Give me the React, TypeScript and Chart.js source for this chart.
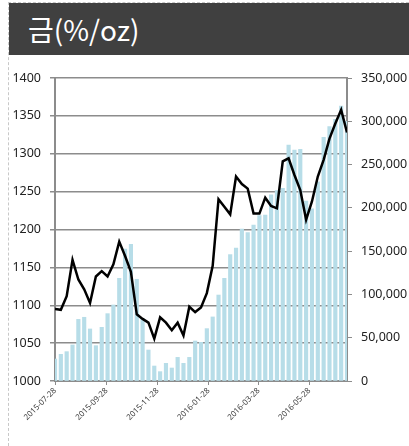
import React, { useEffect, useRef } from 'react';
import { Chart, registerables } from 'chart.js';

Chart.register(...registerables);

const TITLE = '금(%/oz)';

const dates = [
  '2015-07-28', '2015-08-04', '2015-08-11', '2015-08-18', '2015-08-25',
  '2015-09-01', '2015-09-08', '2015-09-15', '2015-09-22', '2015-09-29',
  '2015-10-06', '2015-10-13', '2015-10-20', '2015-10-27', '2015-11-03',
  '2015-11-10', '2015-11-17', '2015-11-24', '2015-12-01', '2015-12-08',
  '2015-12-15', '2015-12-22', '2015-12-29', '2016-01-05', '2016-01-12',
  '2016-01-19', '2016-01-26', '2016-02-02', '2016-02-09', '2016-02-16',
  '2016-02-23', '2016-03-01', '2016-03-08', '2016-03-15', '2016-03-22',
  '2016-03-29', '2016-04-05', '2016-04-12', '2016-04-19', '2016-04-26',
  '2016-05-03', '2016-05-10', '2016-05-17', '2016-05-24', '2016-05-31',
  '2016-06-07', '2016-06-14', '2016-06-21', '2016-06-28', '2016-07-05',
  '2016-07-12',
];

// Gold price ($/oz), left axis
const goldPrice = [
  1095, 1094, 1112, 1160, 1134, 1121, 1103, 1138, 1145, 1138,
  1154, 1184, 1165, 1144, 1088, 1082, 1077, 1056, 1084, 1077,
  1067, 1077, 1060, 1098, 1091, 1097, 1116, 1152, 1240, 1230,
  1220, 1270, 1260, 1254, 1221, 1221, 1242, 1231, 1228, 1290,
  1294, 1272, 1252, 1213, 1237, 1270, 1292, 1320, 1340, 1358,
  1328,
];

// Volume / positions, right axis
const volume = [
  25400, 30800, 33900, 41600, 71200, 73600, 60100, 40800, 62000, 77800,
  87800, 118600, 152500, 158000, 117500, 72000, 35800, 17300, 10800, 20400,
  15000, 27300, 20400, 27300, 46200, 44700, 60500, 74000, 99300, 118600,
  146000, 153500, 175600, 171300, 180200, 191000, 191700, 215000, 220000, 222600,
  272600, 266800, 267600, 207900, 199000, 230200, 281500, 293800, 302300, 317500,
  300000,
];

const xTickLabels = ['2015-07-28', '2015-09-28', '2015-11-28', '2016-01-28', '2016-03-28', '2016-05-28'];

const leftMin = 1000;
const leftMax = 1400;
const leftStep = 50;
const rightMin = 0;
const rightMax = 350000;
const rightStep = 50000;

const DAY = 86400000;
const t0 = Date.parse(dates[0]);
const dayOf = (s: string) => Math.round((Date.parse(s) - t0) / DAY);

const FONT = '"Noto Sans", "Noto Sans CJK KR", sans-serif';

export default function App() {
  const ref = useRef<HTMLCanvasElement | null>(null);

  useEffect(() => {
    if (!ref.current) return;
    const xs = dates.map(dayOf);
    const tickMap: Record<number, string> = {};
    xTickLabels.forEach((l) => (tickMap[dayOf(l)] = l));

    const chart = new Chart(ref.current, {
      type: 'bar',
      data: {
        datasets: [
          {
            type: 'line',
            label: 'gold',
            data: xs.map((x, i) => ({ x, y: goldPrice[i] })),
            borderColor: '#000000',
            borderWidth: 2.5,
            pointRadius: 0,
            tension: 0,
            fill: false,
            yAxisID: 'y',
            order: 0,
          } as any,
          {
            type: 'bar',
            label: 'volume',
            data: xs.map((x, i) => ({ x, y: volume[i] })),
            backgroundColor: '#B7DDE8',
            barThickness: 3.5,
            yAxisID: 'y2',
            order: 1,
          } as any,
        ],
      },
      options: {
        responsive: false,
        animation: false,
        layout: { padding: { top: 23, left: 0, right: 0, bottom: 0 } },
        plugins: { legend: { display: false }, tooltip: { enabled: false } },
        scales: {
          x: {
            type: 'linear',
            min: 0,
            max: xs[xs.length - 1],
            offset: false,
            grid: { display: true, drawOnChartArea: false, offset: false, tickLength: 4, color: '#8c8c8c' },
            border: { display: true, color: '#8c8c8c', width: 2 },
            afterBuildTicks: (scale: any) => {
              scale.ticks = xTickLabels.map((l) => ({ value: dayOf(l) }));
            },
            afterFit: (scale: any) => {
              scale.height = 65;
            },
            ticks: {
              autoSkip: false,
              minRotation: 45,
              maxRotation: 45,
              padding: 1,
              color: '#404040',
              font: { family: FONT, size: 8 },
              callback: (v: any) => tickMap[v] ?? '',
            },
          },
          y: {
            type: 'linear',
            position: 'left',
            min: leftMin,
            max: leftMax,
            grid: { color: '#8c8c8c', lineWidth: 1.5, tickLength: 5 },
            border: { display: true, color: '#8c8c8c', width: 2 },
            afterFit: (scale: any) => {
              scale.width = 46;
            },
            ticks: {
              stepSize: leftStep,
              padding: 9,
              color: '#222222',
              font: { family: FONT, size: 12.5 },
              callback: (v: any) => String(v),
            },
          },
          y2: {
            type: 'linear',
            position: 'right',
            min: rightMin,
            max: rightMax,
            grid: { drawOnChartArea: false, color: '#8c8c8c', tickLength: 5 },
            border: { display: true, color: '#8c8c8c', width: 2 },
            afterFit: (scale: any) => {
              scale.width = 62;
            },
            ticks: {
              stepSize: rightStep,
              padding: 9,
              color: '#222222',
              font: { family: FONT, size: 12.5 },
              callback: (v: any) => Number(v).toLocaleString('en-US'),
            },
          },
        },
      } as any,
    });
    return () => chart.destroy();
  }, []);

  return (
    <div
      style={{
        position: 'absolute',
        left: 8,
        top: 2,
        width: 401,
        height: 444,
        boxSizing: 'border-box',
        borderLeft: '1px dashed #c8c8c8',
        borderTop: '1px dashed #c8c8c8',
        overflow: 'hidden',
        background: '#ffffff',
      }}
    >
      <div
        style={{
          height: 52,
          lineHeight: '52px',
          background: '#404040',
          color: '#ffffff',
          fontFamily: '"Noto Sans CJK KR", "Noto Sans", sans-serif',
          fontSize: 28,
          paddingLeft: 19,
          whiteSpace: 'nowrap',
        }}
      >
        {TITLE}
      </div>
      <canvas ref={ref} width={400} height={391} style={{ display: 'block' }} />
    </div>
  );
}
